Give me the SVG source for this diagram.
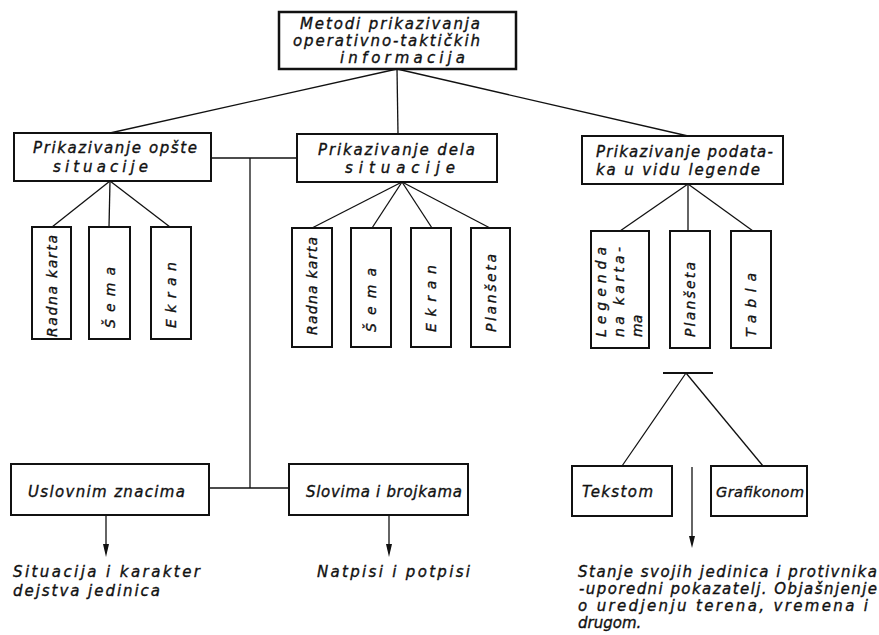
<svg xmlns="http://www.w3.org/2000/svg" width="879" height="635" viewBox="0 0 879 635">
<style>
.box{fill:#fff;stroke:#111;stroke-width:2}
.ln{stroke:#111;stroke-width:1.3;fill:none}
text{font-family:"DejaVu Sans","Liberation Sans",sans-serif;font-style:italic;font-size:15px;fill:#111;stroke:#111;stroke-width:0.35}
.big{font-size:15px}
.rot{font-size:14px}
.sm{font-size:14.5px}
.arr{fill:#111}
</style>
<rect width="879" height="635" fill="#fff"/>
<g id="connectors">
<line class="ln" x1="397" y1="69" x2="110" y2="133"/>
<line class="ln" x1="397" y1="69" x2="398" y2="134"/>
<line class="ln" x1="397" y1="69" x2="688" y2="136"/>
<line class="ln" x1="110" y1="181" x2="52" y2="227"/>
<line class="ln" x1="110" y1="181" x2="109" y2="227"/>
<line class="ln" x1="110" y1="181" x2="170" y2="227"/>
<line class="ln" x1="402" y1="182" x2="312" y2="228"/>
<line class="ln" x1="402" y1="182" x2="372" y2="228"/>
<line class="ln" x1="402" y1="182" x2="432" y2="228"/>
<line class="ln" x1="402" y1="182" x2="490" y2="228"/>
<line class="ln" x1="688" y1="184" x2="620" y2="231"/>
<line class="ln" x1="688" y1="184" x2="688" y2="231"/>
<line class="ln" x1="688" y1="184" x2="753" y2="231"/>
<line class="ln" x1="211" y1="158" x2="297" y2="158"/>
<line class="ln" x1="250" y1="158" x2="250" y2="488"/>
<line class="ln" x1="209" y1="488" x2="289" y2="488"/>
<line class="ln" x1="663" y1="373" x2="713" y2="373" style="stroke-width:2"/>
<line class="ln" x1="686" y1="373" x2="622" y2="466"/>
<line class="ln" x1="686" y1="373" x2="763" y2="466"/>
<path class="ln" d="M106,515 L106,545"/>
<path class="arr" d="M103,544 L109,544 L106,557 Z"/>
<path class="ln" d="M389,515 L389,545"/>
<path class="arr" d="M386,544 L392,544 L389,557 Z"/>
<path class="ln" d="M692,467 L692,537"/>
<path class="arr" d="M689,536 L695,536 L692,548 Z"/>
</g>
<g id="root">
<rect class="box" x="279" y="12" width="237" height="57" style="stroke-width:2.5"/>
<text class="big" x="300" y="29" textLength="180" lengthAdjust="spacing">Metodi prikazivanja</text>
<text class="big" x="293" y="46" textLength="187" lengthAdjust="spacing">operativno-taktičkih</text>
<text class="big" x="340" y="63" textLength="125" lengthAdjust="spacing">informacija</text>
</g>
<g id="n-opste">
<rect class="box" x="14" y="133" width="197" height="48"/>
<text x="33" y="153" textLength="164" lengthAdjust="spacing">Prikazivanje opšte</text>
<text x="53" y="172" textLength="95" lengthAdjust="spacing">situacije</text>
</g>
<g id="n-dela">
<rect class="box" x="297" y="134" width="200" height="48"/>
<text x="318" y="155" textLength="157" lengthAdjust="spacing">Prikazivanje dela</text>
<text x="345" y="173" textLength="110" lengthAdjust="spacing">situacije</text>
</g>
<g id="n-legende">
<rect class="box" x="582" y="136" width="201" height="48"/>
<text x="596" y="157" textLength="177" lengthAdjust="spacing">Prikazivanje podata-</text>
<text x="596" y="175" textLength="164" lengthAdjust="spacing">ka u vidu legende</text>
</g>
<g id="l-radna">
<rect class="box" x="32" y="227" width="39" height="112"/>
<text class="rot" transform="translate(57,337) rotate(-90)" textLength="102" lengthAdjust="spacing">Radna karta</text>
</g>
<g id="l-sema">
<rect class="box" x="89" y="227" width="41" height="112"/>
<text class="rot" transform="translate(115,328) rotate(-90)" textLength="61" lengthAdjust="spacing">Šema</text>
</g>
<g id="l-ekran">
<rect class="box" x="151" y="227" width="40" height="112"/>
<text class="rot" transform="translate(176,328) rotate(-90)" textLength="66" lengthAdjust="spacing">Ekran</text>
</g>
<g id="m-radna">
<rect class="box" x="292" y="228" width="40" height="119"/>
<text class="rot" transform="translate(317,335) rotate(-90)" textLength="98" lengthAdjust="spacing">Radna karta</text>
</g>
<g id="m-sema">
<rect class="box" x="351" y="228" width="40" height="119"/>
<text class="rot" transform="translate(376,332) rotate(-90)" textLength="64" lengthAdjust="spacing">Šema</text>
</g>
<g id="m-ekran">
<rect class="box" x="411" y="228" width="40" height="119"/>
<text class="rot" transform="translate(436,332) rotate(-90)" textLength="67" lengthAdjust="spacing">Ekran</text>
</g>
<g id="m-planseta">
<rect class="box" x="471" y="228" width="39" height="119"/>
<text class="rot" transform="translate(496,332) rotate(-90)" textLength="78" lengthAdjust="spacing">Planšeta</text>
</g>
<g id="r-legenda">
<rect class="box" x="591" y="231" width="58" height="117"/>
<text class="rot" transform="translate(606,337) rotate(-90)" textLength="90" lengthAdjust="spacing">Legenda</text>
<text class="rot" transform="translate(624,337) rotate(-90)" textLength="90" lengthAdjust="spacing">na karta-</text>
<text class="rot" transform="translate(642,337) rotate(-90)">ma</text>
</g>
<g id="r-planseta">
<rect class="box" x="670" y="231" width="40" height="117"/>
<text class="rot" transform="translate(695,337) rotate(-90)" textLength="75" lengthAdjust="spacing">Planšeta</text>
</g>
<g id="r-tabla">
<rect class="box" x="731" y="231" width="40" height="117"/>
<text class="rot" transform="translate(756,337) rotate(-90)" textLength="64" lengthAdjust="spacing">Tabla</text>
</g>
<g id="b-uslovnim">
<rect class="box" x="11" y="464" width="198" height="51"/>
<text x="28" y="497" textLength="157" lengthAdjust="spacing">Uslovnim znacima</text>
</g>
<g id="b-slovima">
<rect class="box" x="289" y="464" width="179" height="51"/>
<text x="306" y="497" textLength="156" lengthAdjust="spacing">Slovima i brojkama</text>
</g>
<g id="b-tekstom">
<rect class="box" x="572" y="466" width="100" height="50"/>
<text x="582" y="497" textLength="71" lengthAdjust="spacing">Tekstom</text>
</g>
<g id="b-grafikonom">
<rect class="box" x="711" y="466" width="96" height="50"/>
<text class="sm" x="716" y="497" textLength="88" lengthAdjust="spacing">Grafikonom</text>
</g>
<g id="out-situacija">
<text x="13" y="577" textLength="187" lengthAdjust="spacing">Situacija i karakter</text>
<text x="13" y="596" textLength="147" lengthAdjust="spacing">dejstva jedinica</text>
</g>
<g id="out-natpisi">
<text x="317" y="577" textLength="153" lengthAdjust="spacing">Natpisi i potpisi</text>
</g>
<g id="out-stanje">
<text x="578" y="577" textLength="299" lengthAdjust="spacing">Stanje svojih jedinica i protivnika</text>
<text x="579" y="594" textLength="298" lengthAdjust="spacing">-uporedni pokazatelj. Objašnjenje</text>
<text x="578" y="611" textLength="290" lengthAdjust="spacing">o uredjenju terena, vremena i</text>
<text x="578" y="628">drugom.</text>
</g>
</svg>
